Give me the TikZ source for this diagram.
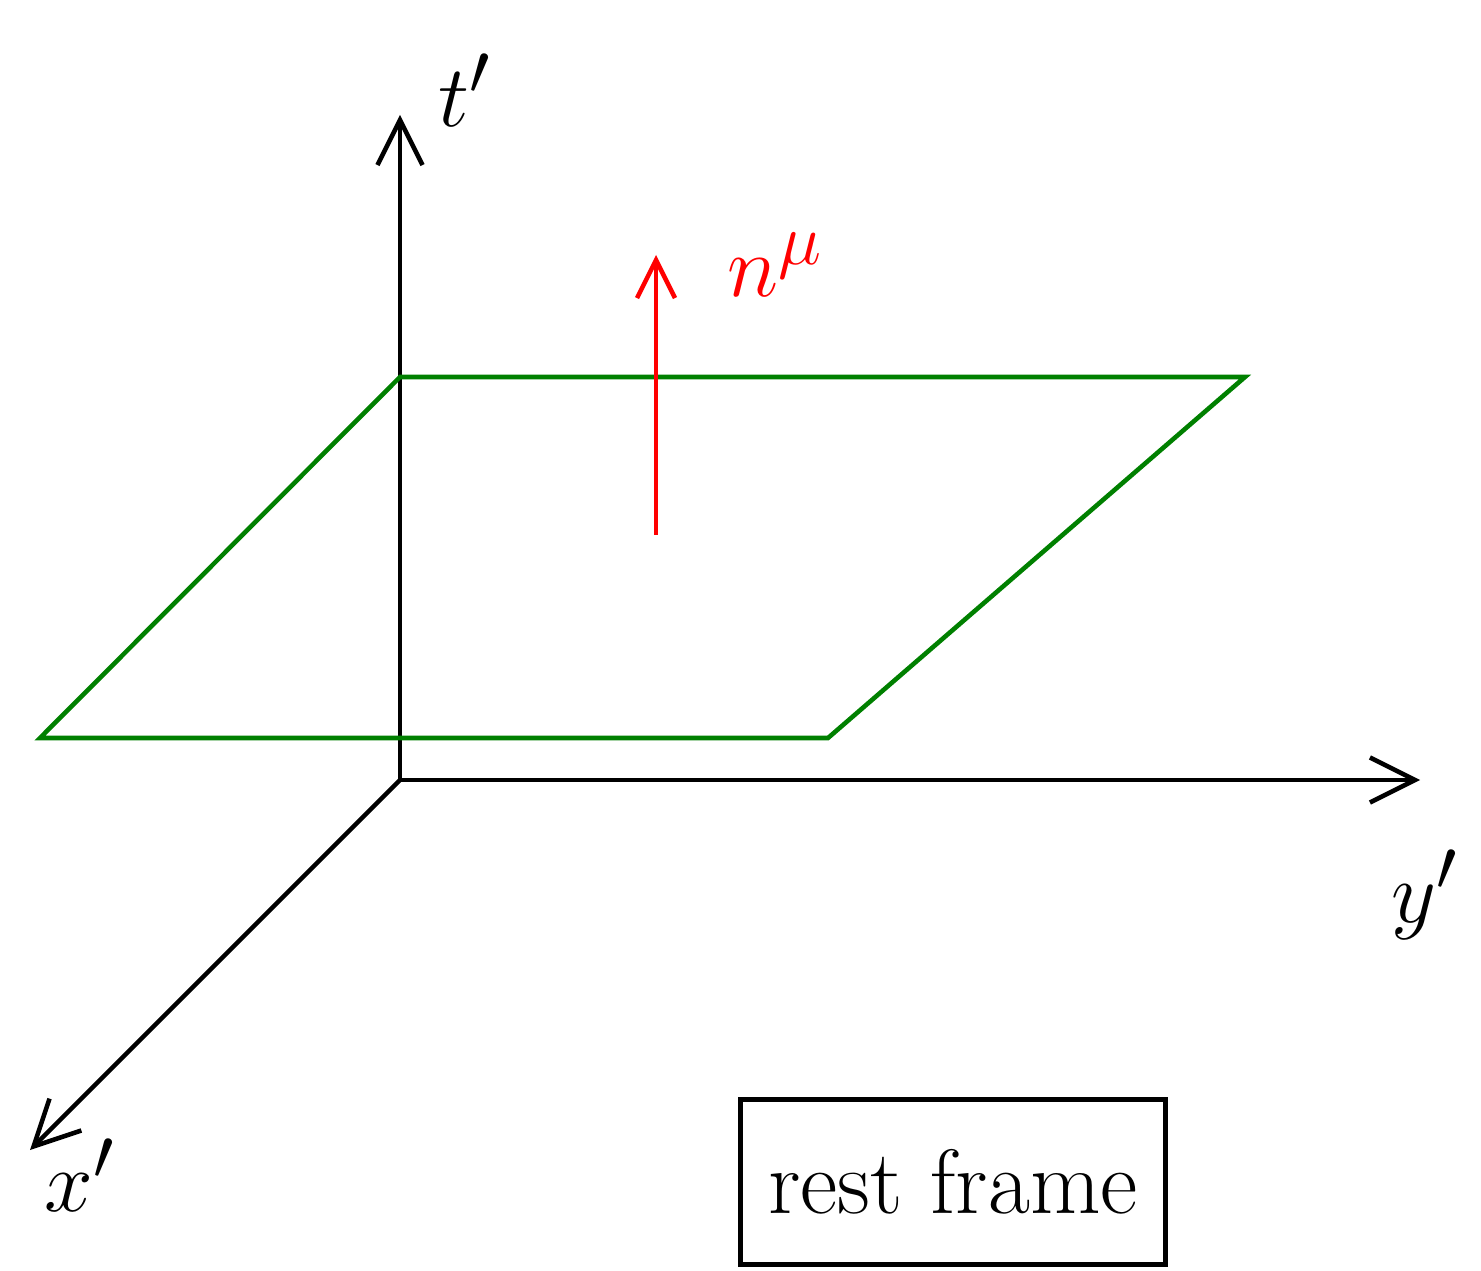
\documentclass[tikz,border=0pt]{standalone}
\usetikzlibrary{arrows.meta}
\tikzset{
  axis/.style={line width=1.3pt,-{Straight Barb[length=4.5mm,width=4.5mm]}},
  plane/.style={line width=1.3pt,green!50!black},
  normal/.style={line width=1.3pt,red,-{Straight Barb[length=3.8mm,width=3.8mm]}},
  lbl/.style={font=\fontsize{30}{34}\selectfont},
}
\begin{document}
\begin{tikzpicture}
        \useasboundingbox (0,0) rectangle (14.81,12.70);
        \coordinate (O) at (4.00,4.90);
        \coordinate (T) at (4.00,11.55);
        \coordinate (Y) at (14.20,4.90);
        \coordinate (X) at (0.30,1.20);
        \coordinate (P1) at (4.00,8.93);
        \coordinate (P2) at (12.45,8.93);
        \coordinate (P3) at (8.28,5.32);
        \coordinate (P4) at (0.40,5.32);
        \coordinate (Nb) at (6.56,7.35);
        \coordinate (Nt) at (6.56,10.15);
        \draw[axis] (O) -- (T);
        \draw[axis] (O) -- (Y);
        \draw[axis] (O) -- (X);
        \draw[plane] (P1) -- (P2) -- (P3) -- (P4) -- cycle;
        \draw[normal] (Nb) -- (Nt);
        \node[lbl] (tlab) at (4.65,11.80) {$t'$};
        \node[lbl] (ylab) at (14.25,3.75) {$y'$};
        \node[lbl] (xlab) at (0.80,0.95) {$x'$};
        \node[lbl,red] (nlab) at (7.75,10.05) {$n^\mu$};
        \node[draw,line width=1.3pt,minimum width=4.25cm,minimum height=1.65cm,
              font=\fontsize{26}{30}\selectfont] (rest) at (9.53,0.88) {rest frame};
    \end{tikzpicture}
\end{document}
